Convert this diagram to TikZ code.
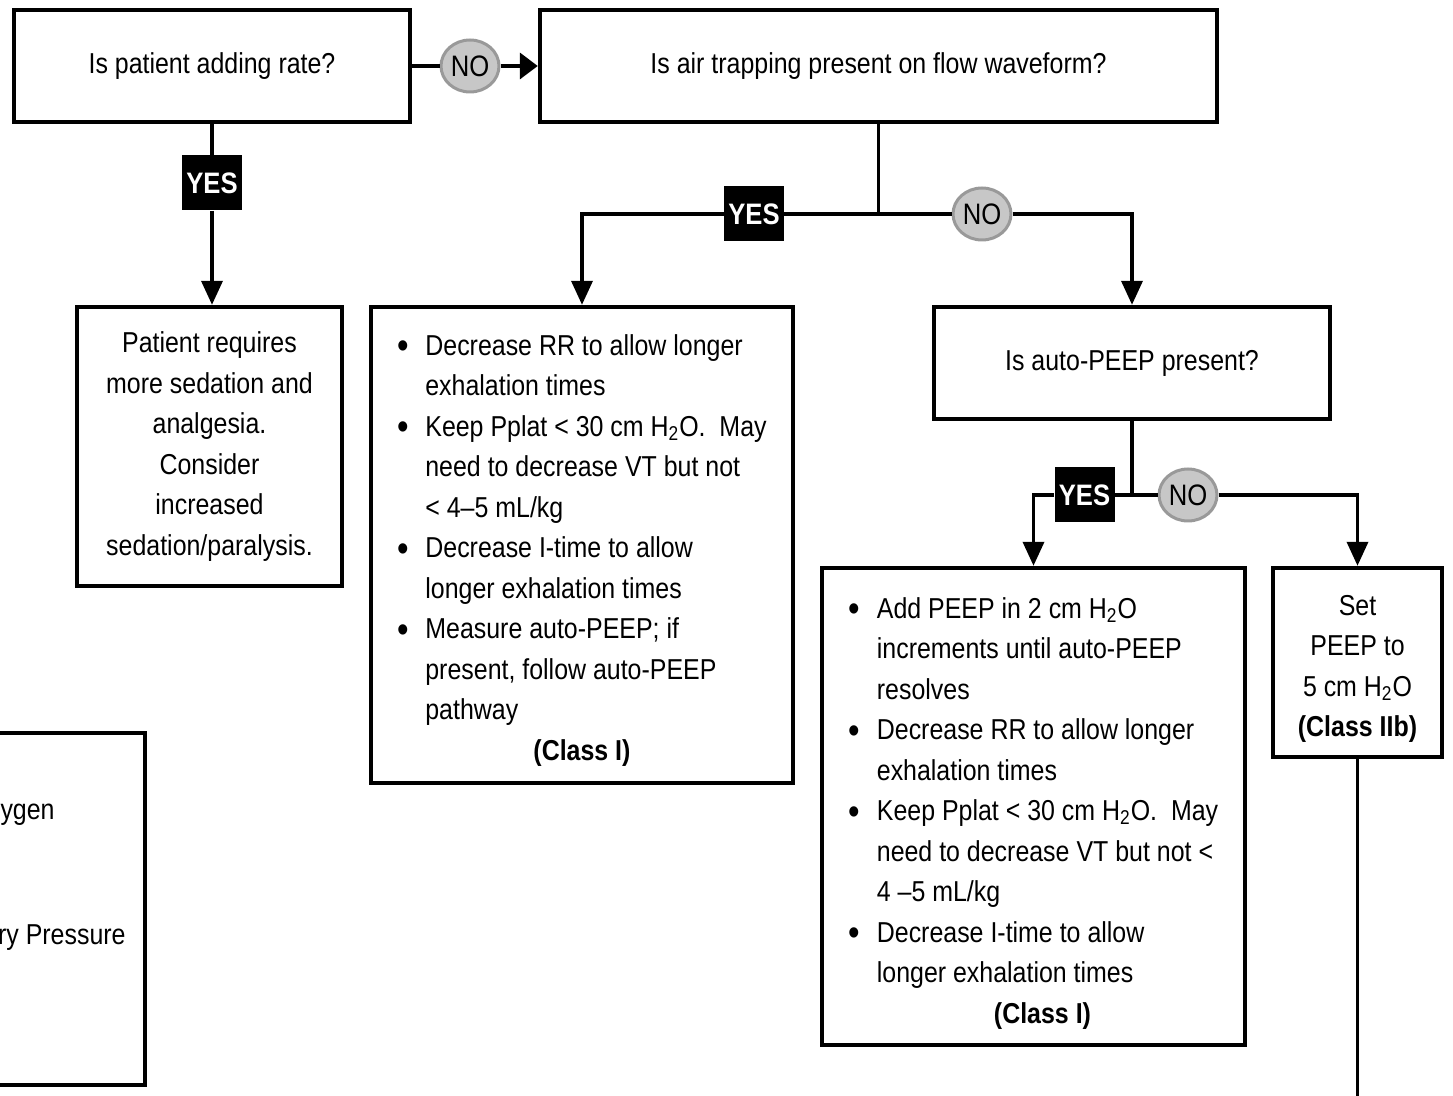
\documentclass[tikz,border=0pt]{standalone}
\usepackage{fontspec}
\setmainfont{Liberation Sans}[FakeStretch=0.866]
\usetikzlibrary{arrows.meta,shapes.geometric}
% bullet list laid out as a two-column table
\newcommand\bulletlist[1]{\begin{tabular}{@{}p{14pt}@{}l@{}}#1\end{tabular}}
\newcommand\bul{\raisebox{-1.8pt}{\fontsize{19}{19}\selectfont\textbullet}}
% move content down without changing the size the node sees
\newcommand\lowered[2]{\raisebox{-#1}[\height][\depth]{#2}}
\begin{document}
\begin{tikzpicture}[x=0.5pt,y=-0.5pt,
  txt/.style={font=\fontsize{14.4}{20.25}\selectfont, text=black},
  box/.style={txt, draw=black, line width=2.2pt, fill=white, inner sep=0pt, align=center},
  listbox/.style={txt, draw=black, line width=2.2pt, fill=white, inner sep=0pt},
  yes/.style={font=\fontsize{14.8}{20.25}\selectfont\bfseries, fill=black, text=white,
    minimum width=30pt, minimum height=27.5pt, inner sep=0pt},
  no/.style={font=\fontsize{14.8}{20.25}\selectfont, text=black, ellipse, fill=black!22,
    draw=black!40, line width=1.5pt, minimum width=29pt, minimum height=26pt, inner sep=0pt},
  link/.style={line width=1.8pt, draw=black},
  arr/.style={link, -{Triangle[length=12pt,width=10.5pt]}},
  sidearr/.style={link, -{Triangle[length=9pt,width=13pt]}},
]
\useasboundingbox (0,0) rectangle (1453,1096);
\clip (0,0) rectangle (1453,1096);
\fill[white] (0,0) rectangle (1453,1096);

% questions
\node[box, minimum width=198pt, minimum height=56pt] (a) at (212,66) {Is patient adding rate?};
\node[box, minimum width=338.5pt, minimum height=56pt] (b) at (878.5,66) {Is air trapping present on flow waveform?};
\node[box, minimum width=198pt, minimum height=56pt] (e) at (1132,363) {Is auto-PEEP present?};

% actions
\node[box, minimum width=132.5pt, minimum height=139.5pt] (c) at (209.5,446.5)
  {Patient requires\\more sedation and\\analgesia.\\Consider\\increased\\sedation/paralysis.};

\node[listbox, minimum width=211pt, minimum height=238pt] (d) at (582,545) {\lowered{2.25pt}{\bulletlist{%
  \bul & Decrease RR to allow longer\\
   & exhalation times\\
  \bul & Keep Pplat < 30 cm H\textsubscript{2}O.\ \ May\\
   & need to decrease VT but not\\
   & < 4--5 mL/kg\\
  \bul & Decrease I-time to allow\\
   & longer exhalation times\\
  \bul & Measure auto-PEEP; if\\
   & present, follow auto-PEEP\\
   & pathway\\
  \multicolumn{2}{c}{\textbf{(Class I)}}}}};

\node[listbox, minimum width=211.5pt, minimum height=238.5pt] (f) at (1033.5,806.5) {\lowered{3pt}{\bulletlist{%
  \bul & Add PEEP in 2 cm H\textsubscript{2}O\\
   & increments until auto-PEEP\\
   & resolves\\
  \bul & Decrease RR to allow longer\\
   & exhalation times\\
  \bul & Keep Pplat < 30 cm H\textsubscript{2}O.\ \ May\\
   & need to decrease VT but not <\\
   & 4 --5 mL/kg\\
  \bul & Decrease I-time to allow\\
   & longer exhalation times\\
  \multicolumn{2}{c}{\hspace{9pt}\textbf{(Class I)}}}}};

\node[box, minimum width=84.5pt, minimum height=94.5pt] (g) at (1357.5,662.5)
  {\lowered{2.75pt}{\begin{tabular}{@{}c@{}}Set\\PEEP to\\5 cm H\textsubscript{2}O\\\textbf{(Class IIb)}\end{tabular}}};

% box cut by the left edge
\node[box, minimum width=172.5pt, minimum height=176pt] (h) at (-27.5,909) {};
\node[txt, anchor=east, inner sep=0pt] (h1) at (55,815) {ygen};
\node[txt, anchor=east, inner sep=0pt] (h2) at (126,938) {ry Pressure};

% answer markers
\node[no] (n1) at (470,66) {NO};
\node[yes] (y1) at (212,183) {YES};
\node[yes] (y2) at (754,214) {YES};
\node[no] (n2) at (982,214) {NO};
\node[yes] (y3) at (1084.5,495) {YES};
\node[no] (n3) at (1188,495) {NO};

\coordinate (j1) at (878.5,214);
\coordinate (j2) at (1132,495);
\coordinate (gend) at (1357.5,1120);

% connectors
\draw[link] (a.east) -- (n1.west);
\draw[sidearr] (n1.east) -- (b.west);

\draw[link] (a.south) -- (y1.north);
\draw[arr] (y1.south) -- (y1.south |- c.north);

\draw[link] (b.south) -- (j1);
\draw[link] (j1) -- (y2.east);
\draw[arr] (y2.west) -| (d.north);
\draw[link] (j1) -- (n2.west);
\draw[arr] (n2.east) -| (e.north);

\draw[link] (e.south) -- (j2);
\draw[link] (j2) -- (y3.east);
\draw[arr] (y3.west) -| (f.north);
\draw[link] (j2) -- (n3.west);
\draw[arr] (n3.east) -| (g.north);

\draw[link] (g.south) -- (gend);
\end{tikzpicture}
\end{document}
